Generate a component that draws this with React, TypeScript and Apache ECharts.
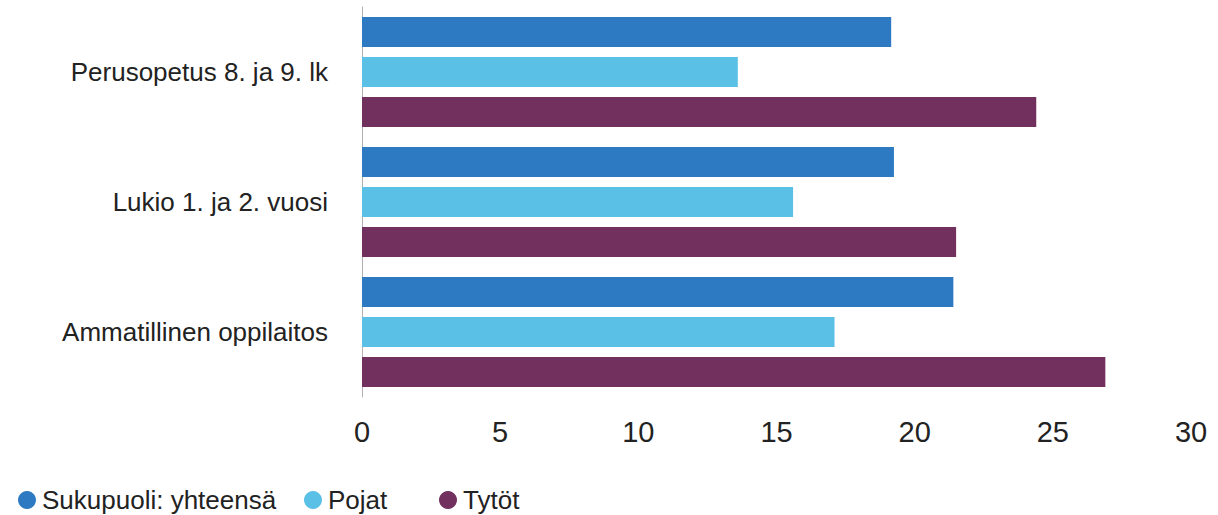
import React, { useEffect, useRef } from "react";
import * as echarts from "echarts";

const categories = ["Perusopetus 8. ja 9. lk", "Lukio 1. ja 2. vuosi", "Ammatillinen oppilaitos"];
const seriesNames = ["Sukupuoli: yhteensä", "Pojat", "Tytöt"];
const totalValues = [19.15, 19.25, 21.4];
const boysValues = [13.6, 15.6, 17.1];
const girlsValues = [24.4, 21.5, 26.9];
const xTicks = [0, 5, 10, 15, 20, 25, 30];
const colors = ["#2E7AC2", "#5BC0E6", "#71305E"];

export default function App() {
  const ref = useRef<HTMLDivElement>(null);
  useEffect(() => {
    if (!ref.current) return;
    const chart = echarts.init(ref.current, undefined, { renderer: "svg" });
    const values = [totalValues, boysValues, girlsValues];
    const legendLefts = [13, 299, 434];
    chart.setOption({
      animation: false,
      textStyle: { fontFamily: "Liberation Sans, Arial, sans-serif" },
      grid: { left: 362, right: 27, top: 7, bottom: 118 },
      legend: seriesNames.map((n, i) => ({
        data: [n],
        left: legendLefts[i],
        top: 482,
        icon: "circle",
        itemWidth: 18,
        itemHeight: 18,
        itemGap: 0,
        textStyle: { fontSize: 26, color: "#222", fontFamily: "Liberation Sans, Arial, sans-serif", padding: [0, 0, 0, 1] },
      })),
      xAxis: {
        type: "value",
        min: xTicks[0],
        max: xTicks[xTicks.length - 1],
        interval: 5,
        axisLine: { show: false },
        axisTick: { show: false },
        splitLine: { show: false },
        axisLabel: {
          fontSize: 29,
          color: "#222",
          margin: 20,
          fontFamily: "Liberation Sans Narrow, Liberation Sans, Arial, sans-serif",
        },
      },
      yAxis: {
        type: "category",
        data: categories,
        inverse: true,
        axisLine: { show: true, lineStyle: { color: "#b0b0b0", width: 1 } },
        axisTick: { show: false },
        axisLabel: { fontSize: 26, color: "#222", margin: 34 },
      },
      series: seriesNames.map((n, i) => ({
        name: n,
        type: "bar",
        data: values[i],
        barWidth: 30,
        barGap: "33%",
        barCategoryGap: "15%",
        itemStyle: { color: colors[i] },
      })),
    });
    return () => chart.dispose();
  }, []);
  return <div ref={ref} style={{ width: 1218, height: 515, position: "absolute", left: 0, top: 0 }} />;
}
